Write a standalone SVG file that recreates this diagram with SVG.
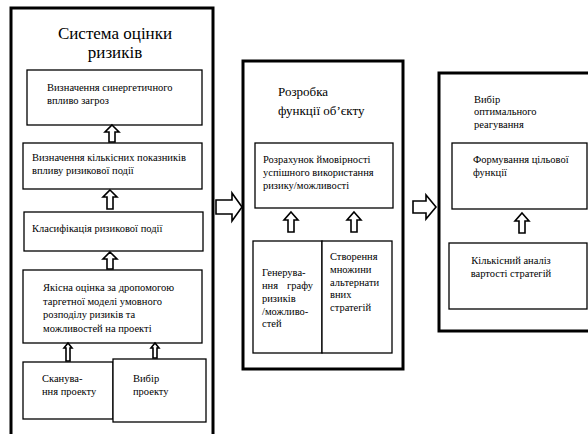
<svg xmlns="http://www.w3.org/2000/svg" width="588" height="434" viewBox="0 0 588 434">
<rect width="588" height="434" fill="#fff"/>
<g id="system">
<rect fill="#fff" stroke="#000" stroke-width="3" x="11" y="8" width="202" height="440"/>
<text font-family="Times New Roman, Liberation Serif, serif" x="115" y="39" font-size="17" text-anchor="middle">Система оцінки</text>
<text font-family="Times New Roman, Liberation Serif, serif" x="115" y="58" font-size="17" text-anchor="middle">ризиків</text>
</g>
<g id="synergy">
<rect fill="#fff" stroke="#000" stroke-width="1.3" x="27" y="70" width="175" height="55"/>
<text font-family="Times New Roman, Liberation Serif, serif" font-size="10.5" x="47" y="91">Визначення синергетичного</text>
<text font-family="Times New Roman, Liberation Serif, serif" font-size="10.5" x="47" y="104">впливо загроз</text>
</g>
<g id="quant">
<rect fill="#fff" stroke="#000" stroke-width="1.3" x="23" y="143" width="179" height="46"/>
<text font-family="Times New Roman, Liberation Serif, serif" font-size="10.5" x="32" y="161">Визначення кількісних показників</text>
<text font-family="Times New Roman, Liberation Serif, serif" font-size="10.5" x="32" y="174">впливу ризикової події</text>
</g>
<g id="classif">
<rect fill="#fff" stroke="#000" stroke-width="1.3" x="24" y="212" width="179" height="39"/>
<text font-family="Times New Roman, Liberation Serif, serif" font-size="10.5" x="32" y="232">Класифікація ризикової події</text>
</g>
<g id="qual">
<rect fill="#fff" stroke="#000" stroke-width="1.3" x="23" y="270" width="179" height="73"/>
<text font-family="Times New Roman, Liberation Serif, serif" font-size="10.5" x="43" y="291">Якісна оцінка за дропомогою</text>
<text font-family="Times New Roman, Liberation Serif, serif" font-size="10.5" x="43" y="305">таргетної моделі умовного</text>
<text font-family="Times New Roman, Liberation Serif, serif" font-size="10.5" x="43" y="318">розподілу ризиків та</text>
<text font-family="Times New Roman, Liberation Serif, serif" font-size="10.5" x="43" y="332">можливостей на проекті</text>
</g>
<g id="scan">
<rect fill="#fff" stroke="#000" stroke-width="1.3" x="23" y="362" width="90" height="57"/>
<text font-family="Times New Roman, Liberation Serif, serif" font-size="10.5" x="42" y="382">Сканува-</text>
<text font-family="Times New Roman, Liberation Serif, serif" font-size="10.5" x="42" y="395">ння проекту</text>
</g>
<g id="choice">
<rect fill="#fff" stroke="#000" stroke-width="1.3" x="113" y="359" width="93" height="63"/>
<text font-family="Times New Roman, Liberation Serif, serif" font-size="10.5" x="133" y="382">Вибір</text>
<text font-family="Times New Roman, Liberation Serif, serif" font-size="10.5" x="133" y="395">проекту</text>
</g>
<g id="objective">
<rect fill="#fff" stroke="#000" stroke-width="3" x="243" y="61" width="160" height="308"/>
<text font-family="Times New Roman, Liberation Serif, serif" x="278" y="96" font-size="13">Розробка</text>
<text font-family="Times New Roman, Liberation Serif, serif" x="278" y="115" font-size="13">функції об’єкту</text>
</g>
<g id="prob">
<rect fill="#fff" stroke="#000" stroke-width="1.3" x="255" y="143" width="138" height="65"/>
<text font-family="Times New Roman, Liberation Serif, serif" font-size="10.5" x="263" y="163">Розрахунок ймовірності</text>
<text font-family="Times New Roman, Liberation Serif, serif" font-size="10.5" x="263" y="176">успішного використання</text>
<text font-family="Times New Roman, Liberation Serif, serif" font-size="10.5" x="263" y="189">ризику/можливості</text>
</g>
<g id="graph">
<rect fill="#fff" stroke="#000" stroke-width="1.3" x="253" y="241" width="69" height="112"/>
<text font-family="Times New Roman, Liberation Serif, serif" font-size="10.5" x="262" y="276">Генерува-</text>
<text font-family="Times New Roman, Liberation Serif, serif" font-size="10.5" x="262" y="289">ння <tspan x="287">графу</tspan></text>
<text font-family="Times New Roman, Liberation Serif, serif" font-size="10.5" x="262" y="302">ризиків</text>
<text font-family="Times New Roman, Liberation Serif, serif" font-size="10.5" x="262" y="315">/можливо-</text>
<text font-family="Times New Roman, Liberation Serif, serif" font-size="10.5" x="262" y="327">стей</text>
</g>
<g id="alts">
<rect fill="#fff" stroke="#000" stroke-width="1.3" x="322" y="241" width="70" height="112"/>
<text font-family="Times New Roman, Liberation Serif, serif" font-size="10.5" x="330" y="260">Створення</text>
<text font-family="Times New Roman, Liberation Serif, serif" font-size="10.5" x="330" y="273">множини</text>
<text font-family="Times New Roman, Liberation Serif, serif" font-size="10.5" x="330" y="286">альтернати</text>
<text font-family="Times New Roman, Liberation Serif, serif" font-size="10.5" x="330" y="298">вних</text>
<text font-family="Times New Roman, Liberation Serif, serif" font-size="10.5" x="330" y="311">стратегій</text>
</g>
<g id="optimal">
<rect fill="#fff" stroke="#000" stroke-width="3" x="439" y="73" width="152" height="258"/>
<text font-family="Times New Roman, Liberation Serif, serif" font-size="10.5" x="474" y="103">Вибір</text>
<text font-family="Times New Roman, Liberation Serif, serif" font-size="10.5" x="474" y="115">оптимального</text>
<text font-family="Times New Roman, Liberation Serif, serif" font-size="10.5" x="474" y="128">реагування</text>
</g>
<g id="target">
<rect fill="#fff" stroke="#000" stroke-width="1.3" x="452" y="143" width="135" height="66"/>
<text font-family="Times New Roman, Liberation Serif, serif" font-size="10.5" x="473" y="163">Формування цільової</text>
<text font-family="Times New Roman, Liberation Serif, serif" font-size="10.5" x="473" y="176">функції</text>
</g>
<g id="cost">
<rect fill="#fff" stroke="#000" stroke-width="1.3" x="449" y="243" width="138" height="66"/>
<text font-family="Times New Roman, Liberation Serif, serif" font-size="10.5" x="511" y="264" text-anchor="middle">Кількісний аналіз</text>
<text font-family="Times New Roman, Liberation Serif, serif" font-size="10.5" x="511" y="277" text-anchor="middle">вартості стратегій</text>
</g>
<g id="connectors" fill="#fff" stroke="#000" stroke-width="1.6">
<path d="M112,125 L119,132 L115,132 L115,142 L109,142 L109,132 L105,132 Z"/>
<path d="M110,190 L117,197 L113,197 L113,209 L107,209 L107,197 L103,197 Z"/>
<path d="M110,252 L117,259 L113,259 L113,269 L107,269 L107,259 L103,259 Z"/>
<path d="M68,343 L72,348 L70,348 L70,361 L66,361 L66,348 L64,348 Z"/>
<path d="M155,343 L159,348 L157,348 L157,358 L153,358 L153,348 L151,348 Z"/>
<path d="M242,207 L232,193 L232,200 L216,200 L216,214 L232,214 L232,221 Z"/>
<path d="M291,212 L298,220 L294,220 L294,232 L288,232 L288,220 L284,220 Z"/>
<path d="M354,212 L361,220 L357,220 L357,232 L351,232 L351,220 L347,220 Z"/>
<path d="M436,207 L426,195 L426,201 L413,201 L413,213 L426,213 L426,219 Z"/>
<path d="M522,213 L529,221 L525,221 L525,233 L519,233 L519,221 L515,221 Z"/>
</g>
</svg>
